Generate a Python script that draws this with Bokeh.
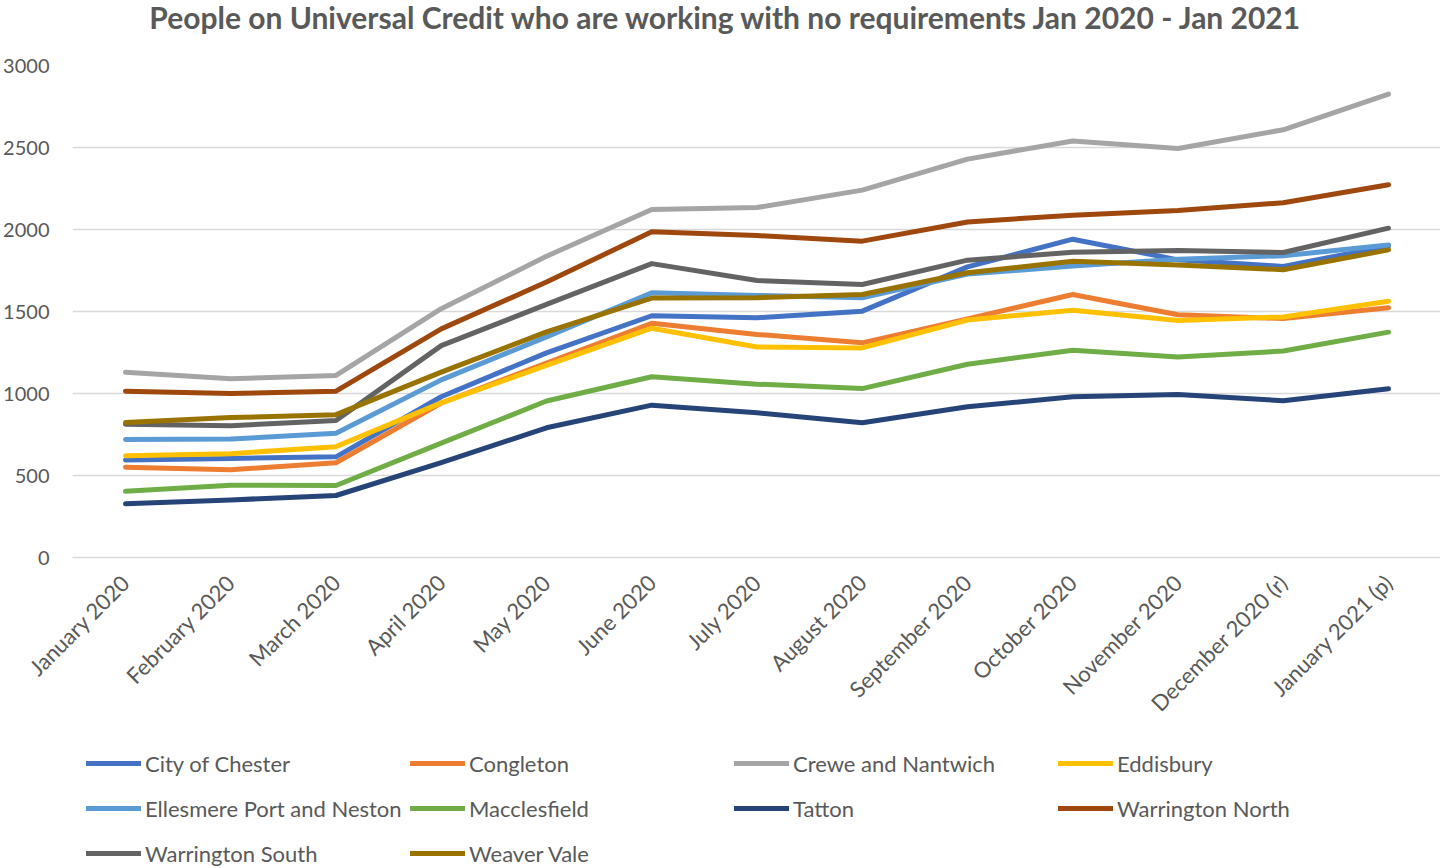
from bokeh.plotting import figure
from bokeh.models import Range1d, FixedTicker, Legend, LegendItem, Label, CustomJSTickFormatter
from bokeh.layouts import column
from bokeh.embed import file_html
from bokeh.resources import INLINE
import math

# ---------------- data ----------------
months = ["January 2020", "February 2020", "March 2020", "April 2020", "May 2020",
          "June 2020", "July 2020", "August 2020", "September 2020", "October 2020",
          "November 2020", "December 2020 (r)", "January 2021 (p)"]

city_of_chester = [595, 604, 614, 980, 1248, 1474, 1462, 1502, 1772, 1941, 1815, 1775, 1900]
congleton = [551, 535, 578, 942, 1185, 1428, 1360, 1309, 1455, 1604, 1480, 1457, 1523]
crewe_and_nantwich = [1129, 1090, 1110, 1517, 1837, 2122, 2134, 2240, 2429, 2540, 2494, 2608, 2826]
eddisbury = [620, 633, 676, 943, 1172, 1398, 1284, 1278, 1448, 1508, 1445, 1467, 1563]
ellesmere_port = [720, 722, 757, 1083, 1345, 1614, 1598, 1584, 1728, 1777, 1819, 1840, 1905]
macclesfield = [404, 441, 439, 697, 954, 1102, 1057, 1030, 1178, 1264, 1222, 1259, 1374]
tatton = [327, 351, 378, 578, 791, 929, 882, 822, 919, 980, 994, 956, 1029]
warrington_north = [1014, 1000, 1014, 1394, 1680, 1986, 1963, 1929, 2046, 2087, 2116, 2163, 2273]
warrington_south = [812, 804, 835, 1292, 1543, 1792, 1689, 1665, 1813, 1861, 1872, 1860, 2008]
weaver_vale = [823, 853, 871, 1130, 1376, 1582, 1584, 1604, 1736, 1806, 1784, 1755, 1876]

series_names = ["City of Chester", "Congleton", "Crewe and Nantwich", "Eddisbury",
                "Ellesmere Port and Neston", "Macclesfield", "Tatton",
                "Warrington North", "Warrington South", "Weaver Vale"]
series_values = [city_of_chester, congleton, crewe_and_nantwich, eddisbury, ellesmere_port,
                 macclesfield, tatton, warrington_north, warrington_south, weaver_vale]
series_colors = ["#4472C4", "#ED7D31", "#A5A5A5", "#FFC000", "#5B9BD5",
                 "#70AD47", "#264478", "#9E480E", "#636363", "#997300"]

y_ticks = [0, 500, 1000, 1500, 2000, 2500, 3000]
title_text = "People on Universal Credit who are working with no requirements Jan 2020 - Jan 2021"

TEXT = "#595959"
FONT = "Lato"
W = 1440
LEFT = 72

x = list(range(len(months)))


def blank(height):
    f = figure(width=W, height=height, output_backend="svg", toolbar_location=None,
               x_range=Range1d(LEFT, W), y_range=Range1d(0, height),
               x_axis_type=None, y_axis_type=None,
               min_border_left=LEFT, min_border_right=0, min_border_top=0,
               min_border_bottom=0)
    f.outline_line_color = None
    f.grid.visible = False
    return f


# ---------------- title strip ----------------
TITLE_H = 40
title_fig = blank(TITLE_H)
title_fig.add_layout(Label(x=726, y=TITLE_H - 16, text=title_text,
                           text_align="center", text_baseline="middle", text_font=FONT,
                           text_font_size="30px", text_font_style="bold", text_color=TEXT))

# ---------------- main chart ----------------
MAIN_H = 690
p = figure(width=W, height=MAIN_H, output_backend="svg", toolbar_location=None,
           x_range=Range1d(-0.5036, 12.494), y_range=Range1d(0, 3000),
           min_border_left=LEFT, min_border_right=0, min_border_top=25,
           min_border_bottom=173)
p.outline_line_color = None

p.xaxis.ticker = FixedTicker(ticks=x)
p.xaxis.formatter = CustomJSTickFormatter(args=dict(labels=months),
                                          code="return labels[Math.round(tick)];")
p.xaxis.major_label_orientation = math.pi / 4
p.xaxis.major_label_text_font = FONT
p.xaxis.major_label_text_font_size = "22px"
p.xaxis.major_label_text_color = TEXT
p.xaxis.major_label_standoff = 21
p.xaxis.axis_line_color = "#D9D9D9"
p.xaxis.axis_line_width = 1.7
p.xaxis.major_tick_out = 0
p.xaxis.major_tick_in = 0
p.xaxis.major_tick_line_color = None
p.xaxis.minor_tick_line_color = None

p.yaxis.ticker = FixedTicker(ticks=y_ticks)
p.yaxis.major_label_text_font = FONT
p.yaxis.major_label_text_font_size = "20px"
p.yaxis.major_label_text_color = TEXT
p.yaxis.major_label_standoff = 23
p.yaxis.axis_line_color = None
p.yaxis.major_tick_out = 0
p.yaxis.major_tick_in = 0
p.yaxis.major_tick_line_color = None
p.yaxis.minor_tick_line_color = None

p.xgrid.grid_line_color = None
p.ygrid.ticker = FixedTicker(ticks=y_ticks)
p.ygrid.grid_line_color = "#D9D9D9"
p.ygrid.grid_line_width = 1.7

for name, vals, col in zip(series_names, series_values, series_colors):
    p.line(x, vals, line_color=col, line_width=5, line_cap="round", line_join="round")

# ---------------- legend strip ----------------
LEG_H = 868 - TITLE_H - MAIN_H
leg_fig = blank(LEG_H)
ncols = 4
col_x = [86, 410, 734, 1058]
item_h = 30
gap = 15
nan = float("nan")
swatches = [leg_fig.line(x=[nan], y=[nan], line_color=c, line_width=5, line_cap="round")
            for c in series_colors]
for c in range(ncols):
    idx = list(range(c, len(series_names), ncols))
    items = [LegendItem(label=series_names[i], renderers=[swatches[i]]) for i in idx]
    n = len(idx)
    h = n * item_h + (n - 1) * gap
    top = 748 - (TITLE_H + MAIN_H)  # distance from strip top to legend top
    leg = Legend(items=items, location=(col_x[c] - LEFT, LEG_H - top - h),
                 orientation="vertical", glyph_width=55, glyph_height=item_h,
                 label_height=item_h, spacing=gap, padding=0, margin=0,
                 label_standoff=4, border_line_color=None, background_fill_alpha=0,
                 label_text_font=FONT, label_text_font_size="22px",
                 label_text_color=TEXT)
    leg_fig.add_layout(leg, "center")

layout = column(title_fig, p, leg_fig, spacing=0)
open("out.html", "w").write(file_html(layout, INLINE))
